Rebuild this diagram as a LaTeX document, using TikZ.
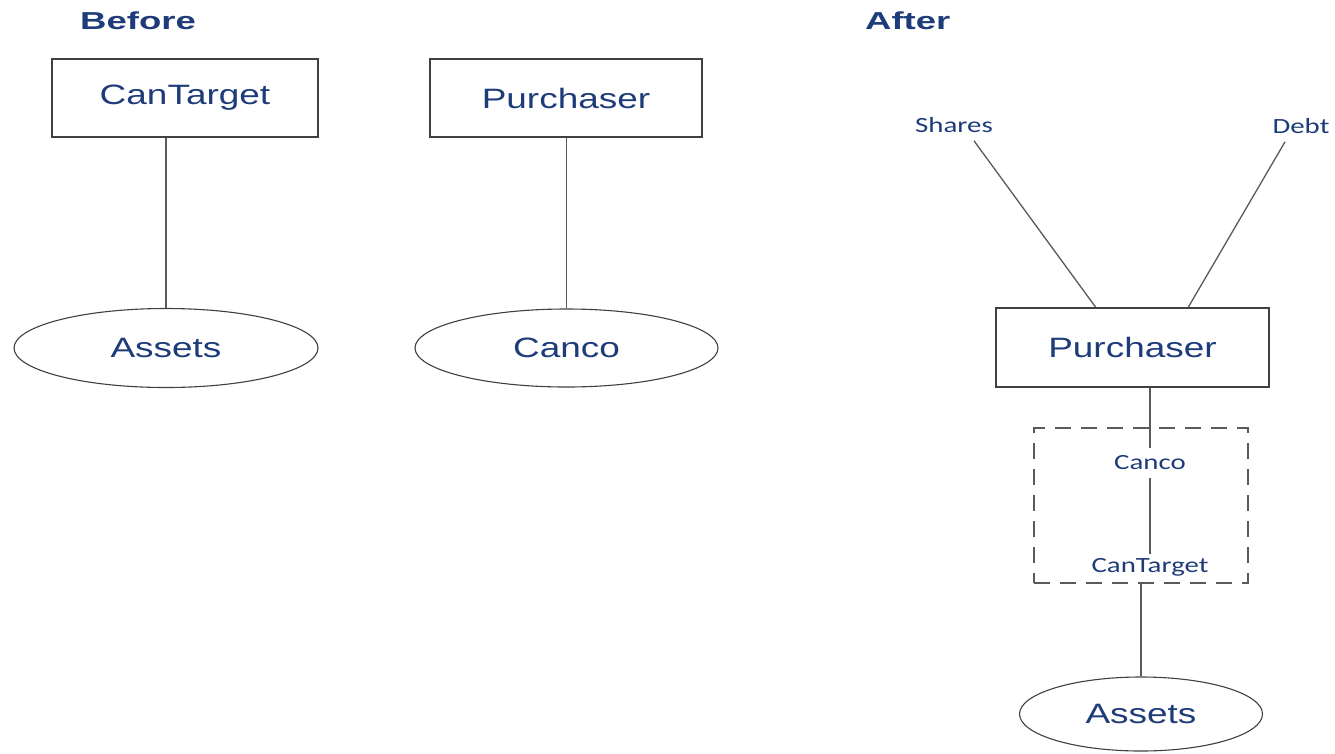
\documentclass[tikz,border=0pt]{standalone}
\usepackage{fontspec}
\usepackage{graphicx}
\setmainfont{Liberation Sans}
\newfontfamily\labelfont{Carlito}
\usetikzlibrary{shapes.geometric,calc}

\definecolor{txtblue}{HTML}{1F3C7A}
\definecolor{linegray}{HTML}{5A5A5A}
\definecolor{edgegray}{HTML}{404040}

% wide-set text used throughout the chart
\newcommand{\titletxt}[1]{\scalebox{1.49}[1]{\fontsize{24.5}{26}\selectfont\bfseries #1}}
\newcommand{\entitytxt}[1]{\scalebox{1.32}[1]{\fontsize{28}{30}\selectfont #1}}
\newcommand{\smalltxt}[1]{\scalebox{1.33}[1]{\fontsize{21.7}{23}\labelfont #1}}

\begin{document}
\begin{tikzpicture}[x=1pt,y=-1pt,
  entitybox/.style={draw=edgegray,line width=1.3pt,inner sep=0pt,text=txtblue},
  assetoval/.style={ellipse,draw=edgegray,line width=1.1pt,inner sep=0pt,text=txtblue},
  link/.style={draw=linegray,line width=1.3pt},
  tag/.style={text=txtblue,inner sep=2pt},
  title/.style={text=txtblue,inner sep=0pt,anchor=base west},
  groupbox/.style={draw=linegray,line width=1.3pt,dash pattern=on 16pt off 10pt,minimum width=214pt,minimum height=155pt,inner sep=0pt}]

\useasboundingbox (0,0) rectangle (1335,753);
\fill[white] (0,0) rectangle (1335,753);

% ---- Before ----
\node[title] (before) at (80,29) {\titletxt{Before}};

\node[entitybox,minimum width=266pt,minimum height=78pt] (ct1) at (185,98) {\entitytxt{CanTarget}};
\node[assetoval,minimum width=304pt,minimum height=79pt] (as1) at (166,348) {\entitytxt{Assets}};
\draw[link] (ct1.south -| as1.north) -- (as1.north);

\node[entitybox,minimum width=272pt,minimum height=78pt] (pu1) at (566,98) {\entitytxt{Purchaser}};
\node[assetoval,minimum width=303pt,minimum height=78pt] (cc1) at (566.5,348) {\entitytxt{Canco}};
\draw[link] (pu1.south -| cc1.north) -- (cc1.north);

% ---- After ----
\node[title] (after) at (865,29) {\titletxt{After}};

\node[tag] (shares) at (954,125) {\smalltxt{Shares}};
\node[tag] (debt) at (1301,126) {\smalltxt{Debt}};

\node[entitybox,minimum width=273pt,minimum height=79pt] (pu2) at (1132.5,347.5) {\entitytxt{Purchaser}};

\draw[link] ($(shares.south)+(20,6)$) -- ($(pu2.north west)!0.366!(pu2.north east)$);
\draw[link] ($(debt.south)+(-16,6)$) -- ($(pu2.north west)!0.703!(pu2.north east)$);

\node[groupbox] (grp) at (1141,505.5) {};
\node[tag,inner sep=8pt] (cc2) at (1150,463) {\smalltxt{Canco}};
\node[tag,inner sep=4pt] (ct2) at (1150,567) {\smalltxt{CanTarget}};

\draw[link] (pu2.south -| cc2.north) -- (cc2.north);
\draw[link] (cc2.south) -- (ct2.north);

\node[assetoval,minimum width=243pt,minimum height=74pt] (as2) at (1141,714) {\entitytxt{Assets}};
\draw[link] (grp.south) -- (as2.north);

\end{tikzpicture}
\end{document}
